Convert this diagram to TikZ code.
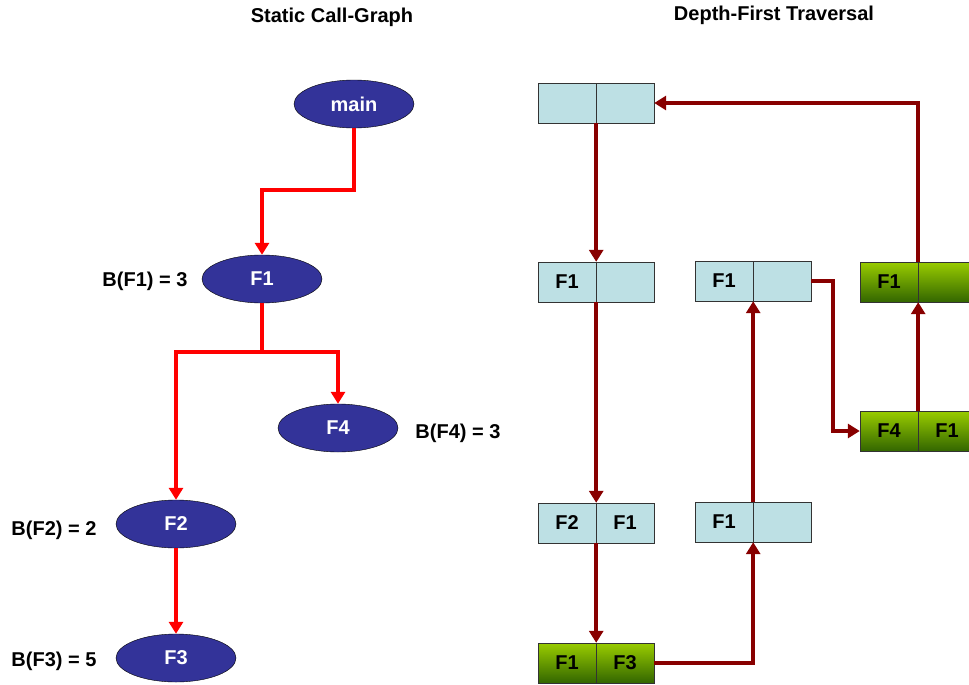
\documentclass[tikz,border=0pt]{standalone}
\usepackage{fontspec}
\setmainfont{Liberation Sans}
\usepackage{tikz}
\usetikzlibrary{shapes.geometric,arrows.meta}
\definecolor{fnblue}{HTML}{333399}
\definecolor{cellblue}{HTML}{BDE0E4}
\definecolor{limetop}{HTML}{99CC00}
\definecolor{limebot}{HTML}{336600}
\definecolor{darkred}{HTML}{880000}
\begin{document}
\begin{tikzpicture} [
        x=1pt,y=-1pt,
        font=\fontsize{20}{24}\selectfont\bfseries,
        fn/.style={
        ellipse,draw=black,fill=fnblue,text=white,
        minimum width=120pt,minimum height=48pt,inner sep=0pt
        },
        cell/.style={
        rectangle,draw=black!80,fill=cellblue,thin,
        minimum width=58pt,minimum height=40pt,inner sep=0pt
        },
        gcell/.style={cell,top color=limetop,bottom color=limebot},
        callarrow/.style={red,line width=4pt,-{Triangle[width=14pt,length=12pt]}},
        walkarrow/.style={darkred,line width=4pt,-{Triangle[width=14pt,length=12pt]}}
    ]

    \path[use as bounding box,clip] (0,0) rectangle (969,685);

    \node(title1) at (332,17) {Static Call-Graph};
    \node(title2) at (774,15) {Depth-First Traversal};

    % left: call graph
    \node[fn](main) at (354,104) {main};
    \node[fn](f1) at (262,279) {F1};
    \node[fn](f4) at (338,428) {F4};
    \node[fn](f2) at (176,524) {F2};
    \node[fn](f3) at (176,658) {F3};

    \node(bf1) at (145,281) {B(F1) = 3};
    \node(bf4) at (458,433) {B(F4) = 3};
    \node(bf2) at (54,530) {B(F2) = 2};
    \node(bf3) at (54,661) {B(F3) = 5};

    \draw[callarrow] (main.south) -- ++(0,62) -| (f1.north);
    \draw[callarrow] (f1.south) -- ++(0,49) -| (f2.north);
    \draw[callarrow] (f1.south) -- ++(0,49) -| (f4.north);
    \draw[callarrow] (f2.south) -- (f3.north);

    % right: traversal
    \node[cell](t1l) at (567,103) {};
    \node[cell](t1r) at (625,103) {};
    \node[cell](a1l) at (567,282) {F1};
    \node[cell](a1r) at (625,282) {};
    \node[cell](a2l) at (567,523) {F2};
    \node[cell](a2r) at (625,523) {F1};
    \node[gcell](a3l) at (567,663) {F1};
    \node[gcell](a3r) at (625,663) {F3};
    \node[cell](b1l) at (724,281) {F1};
    \node[cell](b1r) at (782,281) {};
    \node[cell](b2l) at (724,522) {F1};
    \node[cell](b2r) at (782,522) {};
    \node[gcell](c1l) at (889,282) {F1};
    \node[gcell](c1r) at (947,282) {};
    \node[gcell](c2l) at (889,431) {F4};
    \node[gcell](c2r) at (947,431) {F1};

    \draw[walkarrow] (t1l.south east) -- (a1l.north east);
    \draw[walkarrow] (a1l.south east) -- (a2l.north east);
    \draw[walkarrow] (a2l.south east) -- (a3l.north east);
    \draw[walkarrow] (a3r.east) -| (b2l.south east);
    \draw[walkarrow] (b2l.north east) -- (b1l.south east);
    \draw[walkarrow] (b1r.east) -- ++(22,0) |- (c2l.west);
    \draw[walkarrow] (c2l.north east) -- (c1l.south east);
    \draw[walkarrow] (c1l.north east) |- (t1r.east);

\end{tikzpicture}
\end{document}
